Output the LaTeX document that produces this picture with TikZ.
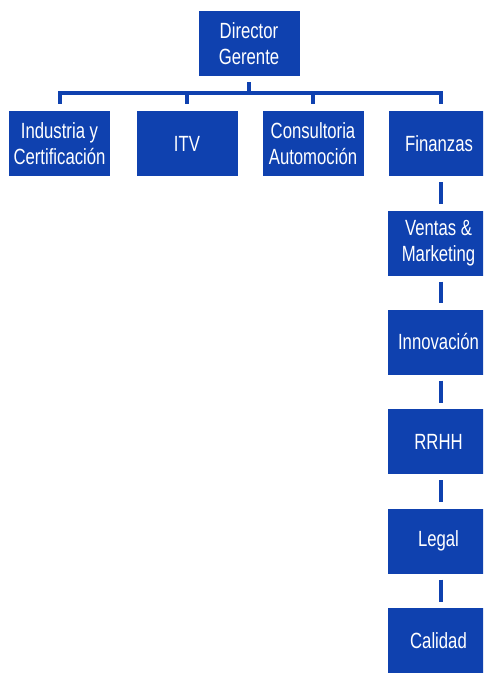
\documentclass[tikz,border=0pt]{standalone}
\usepackage{fontspec}
\setmainfont{Liberation Sans}[FakeStretch=0.76]
\definecolor{orgblue}{RGB}{15,65,175}
\begin{document}
\begin{tikzpicture}[x=1pt,y=-1pt,
  box/.style={fill=orgblue,text=white,minimum width=101pt,minimum height=65pt,inner sep=0pt,align=center,font=\fontsize{22}{26}\selectfont},
  conn/.style={draw=orgblue,line width=4pt}]
\useasboundingbox (0,0) rectangle (483,682);
\clip (0,0) rectangle (483,682);
\node[box] (dir) at (249,43.5) {Director\\Gerente};
\node[box] (ind) at (59.5,143.5) {Industria y\\Certificación};
\node[box] (itv) at (187,143.5) {ITV};
\node[box] (con) at (313,143.5) {Consultoria\\Automoción};
\node[box] (fin) at (439,143.5) {Finanzas};
\node[box] (ven) at (438.5,243) {Ventas \&\\Marketing};
\node[box] (inn) at (438.5,342) {Innovación};
\node[box] (rrh) at (438.5,441.5) {RRHH};
\node[box] (leg) at (438.5,541) {Legal};
\node[box] (cal) at (438.5,640.5) {Calidad};
\coordinate (bus) at (249,93);
\draw[conn] ([yshift=-6pt]dir.south) -- (dir.south |- bus);
\draw[conn] ([yshift=7pt]ind.north) -- (ind.north |- bus) -- ([xshift=2pt]fin.north |- bus) -- ([xshift=2pt,yshift=7pt]fin.north);
\draw[conn] ([yshift=7pt]itv.north) -- (itv.north |- bus);
\draw[conn] ([yshift=7pt]con.north) -- (con.north |- bus);
\draw[conn] ([xshift=2pt,yshift=-6pt]fin.south) -- ([xshift=2pt,yshift=6pt]fin.south |- ven.north);
\draw[conn] ([xshift=2.5pt,yshift=-6pt]ven.south) -- ([xshift=2.5pt,yshift=6pt]inn.north);
\draw[conn] ([xshift=2.5pt,yshift=-6pt]inn.south) -- ([xshift=2.5pt,yshift=6pt]rrh.north);
\draw[conn] ([xshift=2.5pt,yshift=-6pt]rrh.south) -- ([xshift=2.5pt,yshift=6pt]leg.north);
\draw[conn] ([xshift=2.5pt,yshift=-6pt]leg.south) -- ([xshift=2.5pt,yshift=6pt]cal.north);
\end{tikzpicture}
\end{document}
